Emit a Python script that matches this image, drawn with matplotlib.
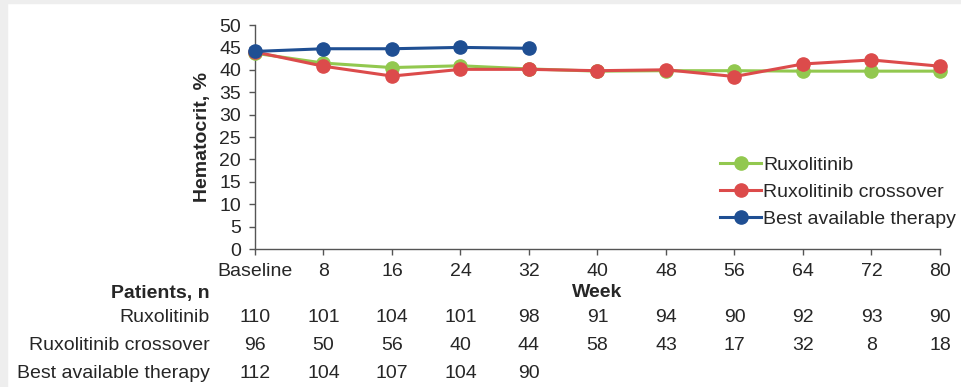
import matplotlib
matplotlib.use("Agg")
import matplotlib.pyplot as plt
from matplotlib.patches import Rectangle

plt.rcParams['font.family'] = ['Liberation Sans', 'DejaVu Sans']

# Data
weeks = [0, 8, 16, 24, 32, 40, 48, 56, 64, 72, 80]
week_labels = ['Baseline', '8', '16', '24', '32', '40', '48', '56', '64', '72', '80']

ruxo = [43.7, 41.5, 40.5, 40.9, 40.2, 39.7, 39.8, 39.8, 39.7, 39.7, 39.7]
ruxo_cross = [44.0, 40.8, 38.6, 40.1, 40.1, 39.8, 40.0, 38.5, 41.3, 42.2, 40.8]
bat = [44.1, 44.7, 44.7, 45.0, 44.8]

n_ruxo = [110, 101, 104, 101, 98, 91, 94, 90, 92, 93, 90]
n_cross = [96, 50, 56, 40, 44, 58, 43, 17, 32, 8, 18]
n_bat = [112, 104, 107, 104, 90]

c_green = '#92c84f'
c_red = '#dc4b4b'
c_blue = '#1f4f93'
txt = '#262626'
fs = 14

fig = plt.figure(figsize=(9.61, 3.87), dpi=100)
# light grey frame on the left and top edges
fig.patches.append(Rectangle((0, 0), 7 / 961, 1, transform=fig.transFigure,
                             color='#eeeeee', zorder=0))
fig.patches.append(Rectangle((0, 1 - 3 / 387), 1, 3 / 387, transform=fig.transFigure,
                             color='#eeeeee', zorder=0))

ax = fig.add_axes([255 / 961, 1 - 249 / 387, 685 / 961, 224 / 387])

kw = dict(lw=2.2, marker='o', markersize=9.5, clip_on=False)
ax.plot(weeks, ruxo, color=c_green, label='Ruxolitinib', zorder=3, **kw)
ax.plot(weeks, ruxo_cross, color=c_red, label='Ruxolitinib crossover', zorder=4, **kw)
ax.plot(weeks[:len(bat)], bat, color=c_blue, label='Best available therapy', zorder=5, **kw)

ax.set_xlim(0, 80)
ax.set_ylim(0, 50)
ax.set_yticks(range(0, 51, 5))
ax.set_xticks(weeks)
ax.set_xticklabels(week_labels)
for s in ['top', 'right']:
    ax.spines[s].set_visible(False)
for s in ['left', 'bottom']:
    ax.spines[s].set_color('#555555')
    ax.spines[s].set_linewidth(1)
ax.tick_params(direction='out', length=4, width=1, color='#555555',
               labelsize=fs, labelcolor=txt, pad=6)
ax.set_ylabel('Hematocrit, %', fontsize=fs, fontweight='bold', color=txt, labelpad=6)

ax.legend(loc='center left', bbox_to_anchor=(0.679, 0.254), frameon=False,
          fontsize=fs, handlelength=2.1, handletextpad=0.1, labelspacing=0.5,
          borderpad=0, borderaxespad=0, labelcolor=txt)

# patient table under the axis
trans = ax.get_xaxis_transform()
ax.text(40, -0.195, 'Week', transform=trans, ha='center', va='center',
        fontsize=fs, fontweight='bold', color=txt)
ax.text(-0.066, -0.197, 'Patients, n', transform=ax.transAxes, ha='right',
        va='center', fontsize=fs, fontweight='bold', color=txt)

rows = [('Ruxolitinib', n_ruxo, -0.308),
        ('Ruxolitinib crossover', n_cross, -0.429),
        ('Best available therapy', n_bat, -0.554)]
for name, vals, yy in rows:
    ax.text(-0.066, yy, name, transform=ax.transAxes, ha='right', va='center',
            fontsize=fs, color=txt)
    for w, v in zip(weeks, vals):
        ax.text(w, yy, str(v), transform=trans, ha='center', va='center',
                fontsize=fs, color=txt)

fig.savefig('out.png', dpi=100)
